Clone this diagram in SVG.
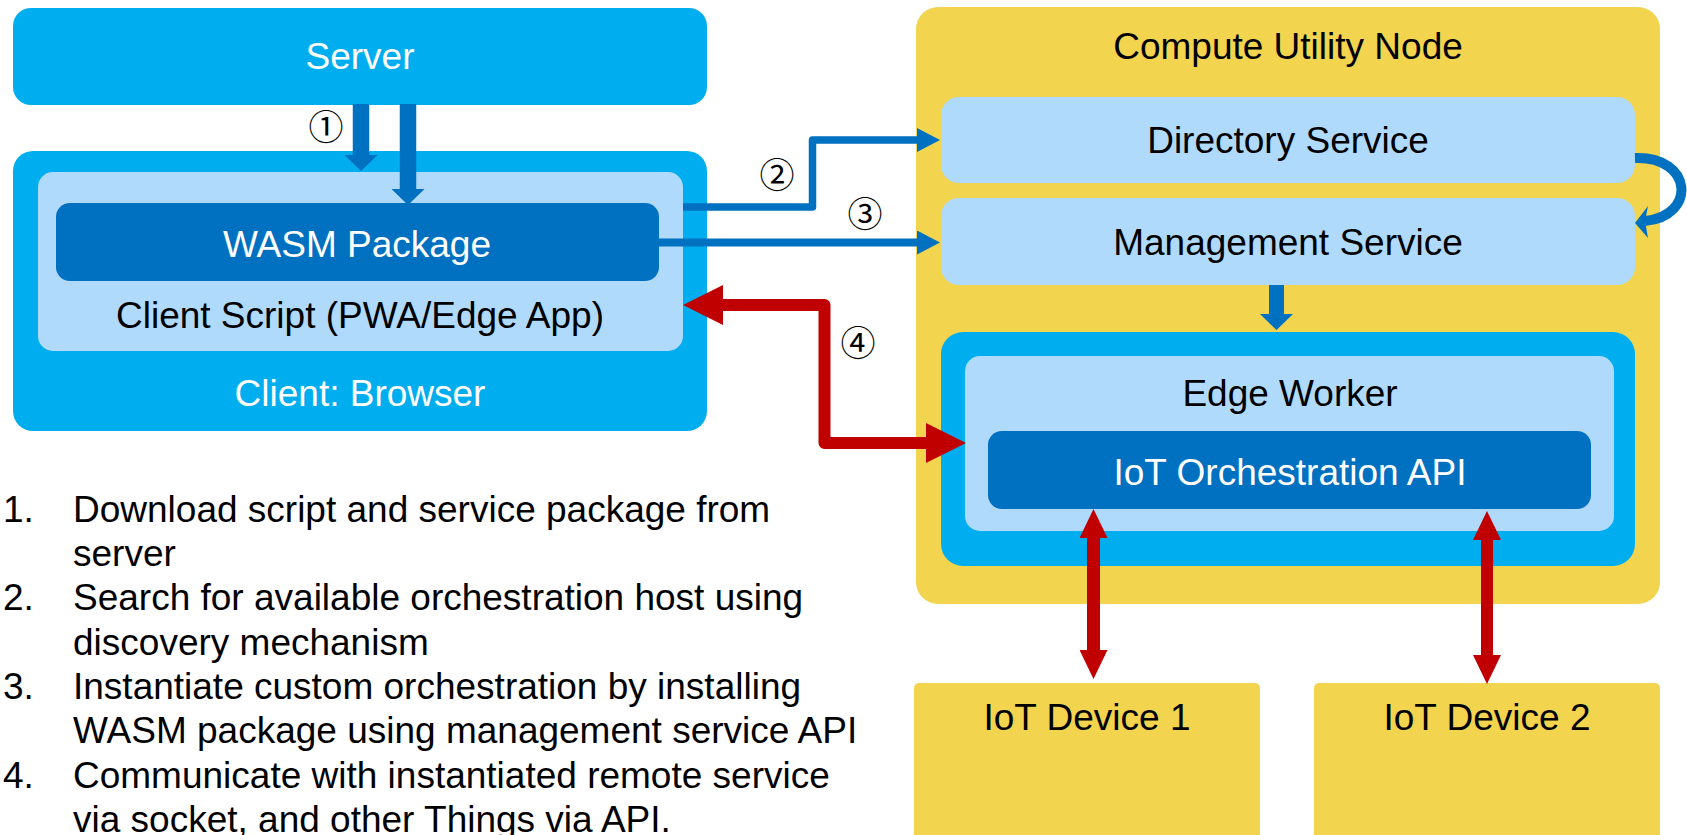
<svg xmlns="http://www.w3.org/2000/svg" width="1687" height="835" viewBox="0 0 1687 835">
<style>
.t{font-family:"Liberation Sans",Arial,sans-serif;font-size:37px;text-anchor:middle;fill:#000}
.w{fill:#fff}
.l{font-family:"Liberation Sans",Arial,sans-serif;font-size:37px;fill:#000}
.n{font-family:"Noto Sans CJK JP","DejaVu Sans",sans-serif;font-size:35px;text-anchor:middle;fill:#000}
.cyan{fill:#00AEEF}
.lb{fill:#B0DAFC}
.db{fill:#0070C0}
.yl{fill:#F2D44F}
.bl{fill:none;stroke:#0070C0}
.rd{fill:none;stroke:#C00000;stroke-linejoin:round}
</style>
<defs>
<marker id="bb" viewBox="0 0 16 33" refX="0" refY="16.5" markerWidth="16" markerHeight="33" markerUnits="userSpaceOnUse" orient="auto"><path d="M0,0 L16,16.5 L0,33 z" fill="#0070C0"/></marker>
<marker id="bs" viewBox="0 0 23 24" refX="0" refY="12" markerWidth="23" markerHeight="24" markerUnits="userSpaceOnUse" orient="auto"><path d="M0,0 L23,12 L0,24 z" fill="#0070C0"/></marker>
<marker id="rb" viewBox="0 0 40 40" refX="0" refY="20" markerWidth="40" markerHeight="40" markerUnits="userSpaceOnUse" orient="auto-start-reverse"><path d="M0,0 L40,20 L0,40 z" fill="#C00000"/></marker>
<marker id="rv" viewBox="0 0 29 28" refX="0" refY="14" markerWidth="29" markerHeight="28" markerUnits="userSpaceOnUse" orient="auto-start-reverse"><path d="M0,0 L29,14 L0,28 z" fill="#C00000"/></marker>
</defs>

<g id="server">
<rect class="cyan" x="13" y="8" width="694" height="97" rx="18"/>
<text class="t w" x="360" y="69">Server</text>
</g>

<g id="client-browser">
<rect class="cyan" x="13" y="151" width="694" height="280" rx="20"/>
<text class="t w" x="360" y="406">Client: Browser</text>
</g>
<g id="client-script">
<rect class="lb" x="38" y="172" width="645" height="179" rx="15"/>
<text class="t" x="360" y="328">Client Script (PWA/Edge App)</text>
</g>
<g id="wasm-package">
<rect class="db" x="56" y="203" width="603" height="78" rx="14"/>
<text class="t w" x="357" y="257">WASM Package</text>
</g>

<g id="compute-utility-node">
<rect class="yl" x="916" y="7" width="744" height="597" rx="22"/>
<text class="t" x="1288" y="59">Compute Utility Node</text>
</g>
<g id="directory-service">
<rect class="lb" x="941" y="97" width="694" height="86" rx="18"/>
<text class="t" x="1288" y="153">Directory Service</text>
</g>
<g id="management-service">
<rect class="lb" x="941" y="198" width="694" height="87" rx="18"/>
<text class="t" x="1288" y="255">Management Service</text>
</g>
<g id="edge-worker">
<rect class="cyan" x="941" y="332" width="694" height="234" rx="22"/>
<rect class="lb" x="965" y="356" width="649" height="175" rx="15"/>
<text class="t" x="1290" y="406">Edge Worker</text>
</g>
<g id="iot-orchestration-api">
<rect class="db" x="988" y="431" width="603" height="78" rx="14"/>
<text class="t w" x="1290" y="485">IoT Orchestration API</text>
</g>

<g id="iot-device-1">
<rect class="yl" x="914" y="683" width="346" height="170" rx="5"/>
<text class="t" x="1087" y="730">IoT Device 1</text>
</g>
<g id="iot-device-2">
<rect class="yl" x="1314" y="683" width="346" height="170" rx="5"/>
<text class="t" x="1487" y="730">IoT Device 2</text>
</g>

<g id="connectors">
<line class="bl" x1="361" y1="104" x2="361" y2="155" stroke-width="16.5" marker-end="url(#bb)"/>
<line class="bl" x1="408" y1="104" x2="408" y2="189" stroke-width="16.5" marker-end="url(#bb)"/>
<path class="bl" d="M683,207 H812.5 V140 H917" stroke-width="7.5" stroke-linejoin="round" marker-end="url(#bs)"/>
<path class="bl" d="M659,242.5 H917" stroke-width="8" marker-end="url(#bs)"/>
<path class="bl" d="M1635,158 C1693,156 1697,216 1645,221" stroke-width="10"/>
<polygon points="1635,223 1648,206 1645,221 1648,238" fill="#0070C0"/>
<line class="bl" x1="1276.5" y1="285" x2="1276.5" y2="314" stroke-width="15" marker-end="url(#bb)"/>
<path class="rd" d="M723,305 H824.5 V443 H926" stroke-width="12" marker-start="url(#rb)" marker-end="url(#rb)"/>
<line class="rd" x1="1093.5" y1="538" x2="1093.5" y2="650" stroke-width="13" marker-start="url(#rv)" marker-end="url(#rv)"/>
<line class="rd" x1="1487" y1="540" x2="1487" y2="655" stroke-width="12" marker-start="url(#rv)" marker-end="url(#rv)"/>
</g>

<g id="step-labels">
<text class="n" x="326" y="140">①</text>
<text class="n" x="777" y="188">②</text>
<text class="n" x="865" y="227">③</text>
<text class="n" x="858" y="356">④</text>
</g>

<g id="steps">
<text class="l" x="3" y="521.7">1.</text>
<text class="l" x="73" y="521.7">Download script and service package from</text>
<text class="l" x="73" y="566">server</text>
<text class="l" x="3" y="610.3">2.</text>
<text class="l" x="73" y="610.3">Search for available orchestration host using</text>
<text class="l" x="73" y="654.6">discovery mechanism</text>
<text class="l" x="3" y="698.9">3.</text>
<text class="l" x="73" y="698.9">Instantiate custom orchestration by installing</text>
<text class="l" x="73" y="743.2">WASM package using management service API</text>
<text class="l" x="3" y="787.5">4.</text>
<text class="l" x="73" y="787.5">Communicate with instantiated remote service</text>
<text class="l" x="73" y="831.5">via socket, and other Things via API.</text>
</g>
</svg>
